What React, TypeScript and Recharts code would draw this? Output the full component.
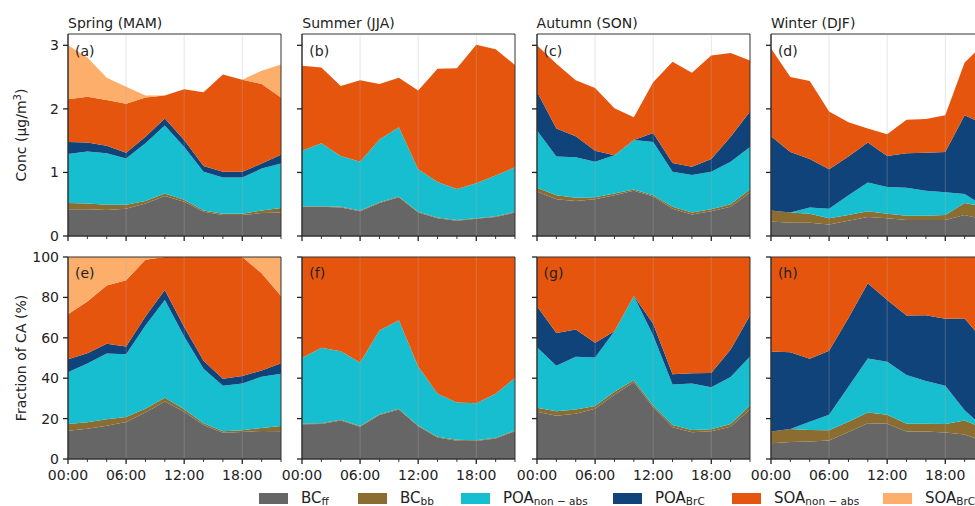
import React from "react";
import { AreaChart, Area, XAxis, YAxis, ReferenceLine, ReferenceArea } from "recharts";

// hours of the diurnal cycle (2-hourly means)
const hours = [0, 2, 4, 6, 8, 10, 12, 14, 16, 18, 20, 22];

// Spring (MAM), µg/m3
const springBCff = [0.42, 0.42, 0.41, 0.43, 0.51, 0.63, 0.54, 0.38, 0.33, 0.33, 0.36, 0.37];
const springBCbb = [0.10, 0.09, 0.08, 0.06, 0.04, 0.04, 0.03, 0.02, 0.02, 0.02, 0.04, 0.07];
const springPOAnon = [0.77, 0.82, 0.81, 0.73, 0.91, 1.07, 0.83, 0.61, 0.57, 0.57, 0.66, 0.70];
const springPOAbrc = [0.19, 0.14, 0.12, 0.09, 0.10, 0.11, 0.11, 0.09, 0.09, 0.09, 0.08, 0.14];
const springSOAnon = [0.67, 0.72, 0.72, 0.77, 0.62, 0.36, 0.80, 1.16, 1.53, 1.45, 1.25, 0.90];
const springSOAbrc = [0.85, 0.62, 0.35, 0.27, 0.03, 0, 0, 0, 0, 0, 0.21, 0.52];

// Summer (JJA)
const summerBCff = [0.46, 0.46, 0.45, 0.39, 0.52, 0.61, 0.37, 0.28, 0.24, 0.27, 0.30, 0.37];
const summerBCbb = [0.01, 0.01, 0.01, 0.01, 0.01, 0.01, 0.01, 0.01, 0.01, 0.01, 0.01, 0.01];
const summerPOAnon = [0.87, 0.99, 0.80, 0.77, 0.99, 1.09, 0.67, 0.56, 0.49, 0.55, 0.64, 0.70];
const summerPOAbrc = [0, 0, 0, 0, 0, 0, 0, 0, 0, 0, 0, 0];
const summerSOAnon = [1.34, 1.19, 1.10, 1.28, 0.87, 0.78, 1.24, 1.78, 1.90, 2.18, 1.99, 1.61];
const summerSOAbrc = [0, 0, 0, 0, 0, 0, 0, 0, 0, 0, 0, 0];

// Autumn (SON)
const autumnBCff = [0.70, 0.58, 0.55, 0.58, 0.64, 0.71, 0.62, 0.43, 0.34, 0.39, 0.46, 0.68];
const autumnBCbb = [0.06, 0.06, 0.05, 0.03, 0.03, 0.02, 0.02, 0.03, 0.03, 0.03, 0.04, 0.05];
const autumnPOAnon = [0.90, 0.61, 0.64, 0.56, 0.60, 0.78, 0.84, 0.55, 0.59, 0.59, 0.67, 0.67];
const autumnPOAbrc = [0.61, 0.44, 0.33, 0.17, 0, 0, 0.14, 0.14, 0.13, 0.20, 0.39, 0.56];
const autumnSOAnon = [0.73, 1.02, 0.88, 0.99, 0.74, 0.36, 0.80, 1.59, 1.48, 1.63, 1.32, 0.80];
const autumnSOAbrc = [0, 0, 0, 0, 0, 0, 0, 0, 0, 0, 0, 0];

// Winter (DJF)
const winterBCff = [0.23, 0.21, 0.21, 0.18, 0.24, 0.30, 0.28, 0.25, 0.25, 0.25, 0.33, 0.26];
const winterBCbb = [0.17, 0.16, 0.14, 0.10, 0.09, 0.09, 0.07, 0.07, 0.07, 0.08, 0.19, 0.20];
const winterPOAnon = [0, 0, 0.10, 0.15, 0.31, 0.45, 0.42, 0.44, 0.39, 0.36, 0.14, 0.01];
const winterPOAbrc = [1.17, 0.95, 0.76, 0.62, 0.61, 0.63, 0.49, 0.54, 0.60, 0.63, 1.24, 1.29];
const winterSOAnon = [1.38, 1.18, 1.23, 0.91, 0.54, 0.22, 0.34, 0.53, 0.53, 0.58, 0.83, 1.26];
const winterSOAbrc = [0, 0, 0, 0, 0, 0, 0, 0, 0, 0, 0, 0];

const seasonTitles = ["Spring (MAM)", "Summer (JJA)", "Autumn (SON)", "Winter (DJF)"];
const topLetters = ["(a)", "(b)", "(c)", "(d)"];
const bottomLetters = ["(e)", "(f)", "(g)", "(h)"];
const concTicks = [0, 1, 2, 3];
const fracTicks = [0, 0.2, 0.4, 0.6, 0.8, 1];
const hourTicks = hours;
const gridHours = [6, 12, 18];

const series = [
  { key: "bcff", color: "#666666", name: "BC", sub: "ff" },
  { key: "bcbb", color: "#8c6d31", name: "BC", sub: "bb" },
  { key: "poanon", color: "#17becf", name: "POA", sub: "non − abs" },
  { key: "poabrc", color: "#10437a", name: "POA", sub: "BrC" },
  { key: "soanon", color: "#e6550d", name: "SOA", sub: "non − abs" },
  { key: "soabrc", color: "#fdae6b", name: "SOA", sub: "BrC" },
];

const buildRows = (cols: number[][]) =>
  hours.map((h, i) => ({
    hour: h,
    bcff: cols[0][i],
    bcbb: cols[1][i],
    poanon: cols[2][i],
    poabrc: cols[3][i],
    soanon: cols[4][i],
    soabrc: cols[5][i],
  }));

const seasons = [
  buildRows([springBCff, springBCbb, springPOAnon, springPOAbrc, springSOAnon, springSOAbrc]),
  buildRows([summerBCff, summerBCbb, summerPOAnon, summerPOAbrc, summerSOAnon, summerSOAbrc]),
  buildRows([autumnBCff, autumnBCbb, autumnPOAnon, autumnPOAbrc, autumnSOAnon, autumnSOAbrc]),
  buildRows([winterBCff, winterBCbb, winterPOAnon, winterPOAbrc, winterSOAnon, winterSOAbrc]),
];

const FONT = "'DejaVu Sans', sans-serif";
const INK = "#222";
const PLOT_W = 213;
const PLOT_H = 202;
const Y_AXIS_W = 40;
const X_AXIS_H = 30;
const TOP_PAD = 10;
const CONC_MAX = 3.178;

const colX = (c: number) => 68 + c * 234.3;
const rowY = (r: number) => (r === 0 ? 34 : 257);

const fmtHour = (h: number) => `${String(h).padStart(2, "0")}:00`;

const HourTick = (props: any) => {
  const { x, y, payload, showLabel } = props;
  const major = payload.value % 6 === 0;
  return (
    <g>
      <line x1={x} x2={x} y1={y} y2={y + (major ? 5 : 3)} stroke={INK} strokeWidth={major ? 1.3 : 0.9} />
      {showLabel && major && (
        <text x={x} y={y + 21} textAnchor="middle" fontSize={14} fill={INK} fontFamily={FONT}>
          {fmtHour(payload.value)}
        </text>
      )}
    </g>
  );
};

function Panel({ col, row }: { col: number; row: number }) {
  const frac = row === 1;
  const yMax = frac ? 1 : CONC_MAX;
  return (
    <div style={{ position: "absolute", left: colX(col) - Y_AXIS_W, top: rowY(row) - TOP_PAD }}>
      <AreaChart
        width={Y_AXIS_W + PLOT_W + 2}
        height={TOP_PAD + PLOT_H + X_AXIS_H}
        data={seasons[col]}
        stackOffset={frac ? "expand" : "none"}
        margin={{ top: TOP_PAD, right: 2, bottom: 0, left: 0 }}
      >
        <XAxis
          dataKey="hour"
          type="number"
          domain={[0, 22]}
          ticks={hourTicks}
          interval={0}
          height={X_AXIS_H}
          axisLine={{ stroke: "#333" }}
          tickLine={false}
          tickSize={0}
          tickMargin={0}
          tick={(p: any) => <HourTick {...p} showLabel={frac} />}
        />
        <YAxis
          type="number"
          domain={[0, yMax]}
          ticks={frac ? fracTicks : concTicks}
          interval={0}
          width={Y_AXIS_W}
          allowDataOverflow
          axisLine={{ stroke: "#333" }}
          tickLine={{ stroke: INK, strokeWidth: 1.3 }}
          tickSize={5}
          tickMargin={4}
          tick={{ fontSize: 14, fill: INK, fontFamily: FONT }}
          tickFormatter={(v: number) => (col > 0 ? "" : frac ? String(Math.round(v * 100)) : String(v))}
        />
        {series.map((s) => (
          <Area
            key={s.key}
            type="linear"
            dataKey={s.key}
            stackId="ca"
            fill={s.color}
            fillOpacity={1}
            stroke="none"
            isAnimationActive={false}
            dot={false}
            activeDot={false}
          />
        ))}
        {gridHours.map((h) => (
          <ReferenceLine key={h} x={h} stroke="#b0b0b0" strokeOpacity={0.4} strokeWidth={0.8} />
        ))}
        <ReferenceArea x1={0} x2={22} y1={0} y2={yMax} fill="none" stroke="#333" strokeWidth={1} />
      </AreaChart>
    </div>
  );
}

const legendX = [259, 358, 461, 613, 732, 883];

export default function App() {
  return (
    <div
      style={{
        position: "fixed",
        left: 0,
        top: 0,
        width: 975,
        height: 506,
        overflow: "hidden",
        background: "#fff",
        fontFamily: FONT,
      }}
    >
      {[0, 1].map((r) => [0, 1, 2, 3].map((c) => <Panel key={`${r}-${c}`} col={c} row={r} />))}
      <svg
        width={975}
        height={506}
        style={{ position: "absolute", left: 0, top: 0, pointerEvents: "none" }}
        fontFamily={FONT}
      >
        {seasonTitles.map((t, c) => (
          <text key={t} x={colX(c)} y={28} fontSize={14} fill={INK}>
            {t}
          </text>
        ))}
        {topLetters.map((t, c) => (
          <text key={t} x={colX(c) + 7} y={rowY(0) + 22} fontSize={14} fill={INK}>
            {t}
          </text>
        ))}
        {bottomLetters.map((t, c) => (
          <text key={t} x={colX(c) + 7} y={rowY(1) + 21} fontSize={14} fill={INK}>
            {t}
          </text>
        ))}
        <text transform={`translate(26, ${rowY(0) + PLOT_H / 2}) rotate(-90)`} textAnchor="middle" fontSize={14} fill={INK}>
          Conc (µg/m<tspan dy={-5} fontSize={10}>3</tspan>
          <tspan dy={5}>)</tspan>
        </text>
        <text transform={`translate(26, ${rowY(1) + PLOT_H / 2}) rotate(-90)`} textAnchor="middle" fontSize={14} fill={INK}>
          Fraction of CA (%)
        </text>
        {series.map((s, i) => (
          <g key={s.key}>
            <rect x={legendX[i]} y={493} width={29} height={11} fill={s.color} />
            <text x={legendX[i] + 42} y={503} fontSize={15} fill={INK}>
              {s.name}
              <tspan fontSize={10.5} dy={2}>
                {s.sub}
              </tspan>
            </text>
          </g>
        ))}
      </svg>
    </div>
  );
}
